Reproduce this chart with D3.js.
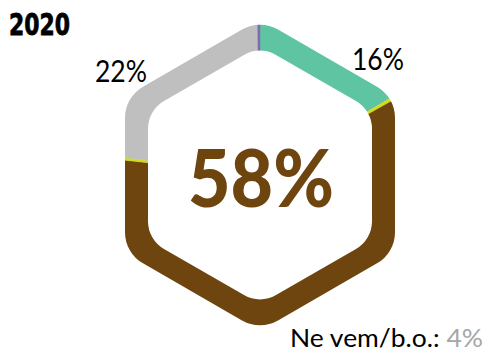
<!DOCTYPE html>
<html>
<head>
<meta charset="utf-8">
<script src="https://cdn.jsdelivr.net/npm/d3@7"></script>
<style>
  html, body { margin: 0; padding: 0; background: #fff; }
  svg { display: block; }
</style>
</head>
<body>
<svg id="chart" width="487" height="351"></svg>
<script>
// Answer shares for 2020, clockwise from the top of the ring
const categories = ["A", "B", "C", "D", "E", "F"];
const values = [16, 0.35, 58, 0.3, 22, 0.25];
const colors = ["#5ec4a1", "#d4dd1c", "#6e440f", "#d4dd1c", "#bfbfbf", "#7d6bb3"];
const yearLabel = "2020";
const highlightLabel = "58%";
const sideLabels = [{ text: "16%", index: 0 }, { text: "22%", index: 4 }];
const noAnswerLabel = "Ne vem/b.o.:";
const noAnswerValue = "4%";

const svg = d3.select("#chart");
const cx = 260, cy = 175;

// Rounded, pointy-top hexagon: apothem a, corner radius r
function roundedHex(a, r) {
  const R = a / Math.cos(Math.PI / 6);
  const verts = d3.range(6).map(i => {
    const ang = i * Math.PI / 3; // from north, clockwise
    return [cx + R * Math.sin(ang), cy - R * Math.cos(ang)];
  });
  const t = r / Math.tan(Math.PI / 3);
  const toward = (p, q, d) => {
    const dx = q[0] - p[0], dy = q[1] - p[1], len = Math.hypot(dx, dy);
    return [p[0] + dx / len * d, p[1] + dy / len * d];
  };
  const path = d3.path();
  verts.forEach((v, i) => {
    const prev = verts[(i + 5) % 6], next = verts[(i + 1) % 6];
    const a1 = toward(v, prev, t), a2 = toward(v, next, t);
    if (i === 0) path.moveTo(a1[0], a1[1]); else path.lineTo(a1[0], a1[1]);
    path.arcTo(v[0], v[1], a2[0], a2[1], r);
  });
  path.closePath();
  return path.toString();
}

const defs = svg.append("defs");
defs.append("clipPath").attr("id", "ring")
  .append("path")
  .attr("clip-rule", "evenodd")
  .attr("d", roundedHex(135, 36) + roundedHex(112, 32));

const pie = d3.pie().sort(null).value(d => d)
  .startAngle(0).endAngle(2 * Math.PI);
const arcs = pie(values);
const arc = d3.arc().innerRadius(0).outerRadius(220);

svg.append("g")
  .attr("clip-path", "url(#ring)")
  .append("g")
  .attr("transform", `translate(${cx},${cy})`)
  .selectAll("path")
  .data(arcs)
  .join("path")
  .attr("d", arc)
  .attr("fill", (d, i) => colors[i])
  .attr("stroke", (d, i) => colors[i])
  .attr("stroke-width", 0.4);

// Year title
svg.append("text")
  .attr("x", 9).attr("y", 35)
  .attr("font-family", "DejaVu Sans")
  .attr("font-weight", "bold")
  .attr("font-size", 30)
  .attr("textLength", 61)
  .attr("lengthAdjust", "spacingAndGlyphs")
  .attr("fill", "#000")
  .attr("stroke", "#000")
  .attr("stroke-width", 0.8)
  .text(yearLabel);

// Big central value
svg.append("text")
  .attr("x", cx + 1).attr("y", 207)
  .attr("text-anchor", "middle")
  .attr("font-family", "Lato")
  .attr("font-weight", 900)
  .attr("font-size", 80)
  .attr("textLength", 146)
  .attr("lengthAdjust", "spacingAndGlyphs")
  .attr("fill", colors[2])
  .text(highlightLabel);

// Outside percentage labels
const labelPos = { 0: { x: 352, y: 70 }, 4: { x: 95, y: 82 } };
sideLabels.forEach(l => {
  svg.append("text")
    .attr("x", labelPos[l.index].x).attr("y", labelPos[l.index].y)
    .attr("font-family", "Lato")
    .attr("font-size", 30)
    .attr("textLength", 52)
    .attr("lengthAdjust", "spacingAndGlyphs")
    .attr("fill", "#000")
    .text(l.text);
});

// Non-response note
const note = svg.append("text")
  .attr("x", 290).attr("y", 347)
  .attr("font-family", "Lato")
  .attr("font-size", 25)
  .attr("textLength", 193)
  .attr("lengthAdjust", "spacingAndGlyphs");
note.append("tspan").attr("fill", "#000").text(noAnswerLabel + " ");
note.append("tspan").attr("fill", "#a6a6a6").text(noAnswerValue);
</script>
</body>
</html>
